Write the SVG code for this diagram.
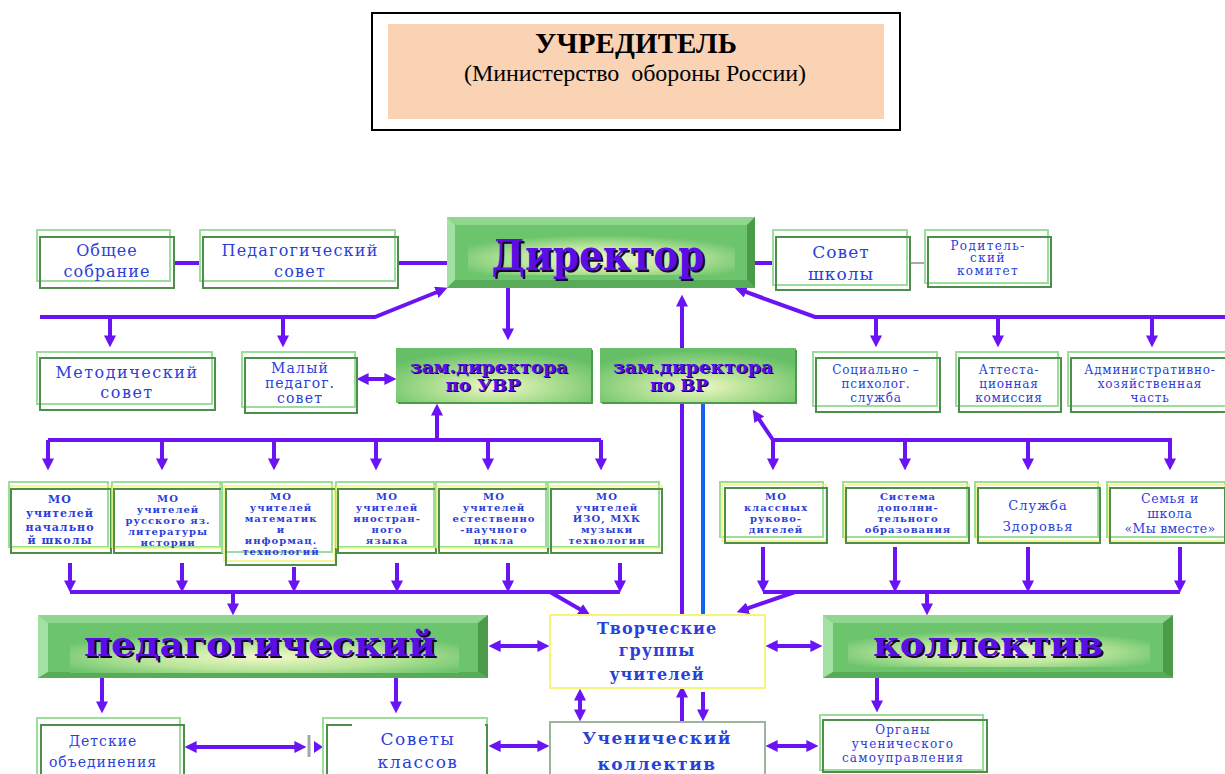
<svg xmlns="http://www.w3.org/2000/svg" width="1225" height="774" viewBox="0 0 1225 774">
<style>
.lt{fill:#fff;stroke:#9ade9a;stroke-width:2}
.dk{fill:none;stroke:#4d8d4d;stroke-width:2}
.yl{fill:none;stroke:#f2f27a;stroke-width:1.5}
.c{fill:none;stroke:#6a14f4;stroke-width:4}
.cm{fill:none;stroke:#6a14f4;stroke-width:4;marker-end:url(#ah)}
.cd{fill:none;stroke:#6a14f4;stroke-width:4;marker-start:url(#ah);marker-end:url(#ah)}
.t{font-family:"DejaVu Serif","Liberation Serif",serif;fill:#2b40d8;text-anchor:middle}
.mo{font-size:10px;letter-spacing:1px;font-weight:bold}
.gt{font-family:"DejaVu Serif","Liberation Serif",serif;font-weight:bold;fill:#5a0ee6;text-anchor:middle}
.gs{font-family:"DejaVu Serif","Liberation Serif",serif;font-weight:bold;fill:#150030;text-anchor:middle}
.hl{fill:#8fd68f}.hd{fill:#4b9b4b}.hb{fill:#58ab58}.hll{fill:#a3e0a3}
</style>
<defs>
<marker id="ah" viewBox="0 0 10 10" refX="3" refY="5" markerWidth="12" markerHeight="12" markerUnits="userSpaceOnUse" orient="auto-start-reverse">
<path d="M0,0 L10,5 L0,10 z" fill="#6a14f4"/>
</marker>
<radialGradient id="gIn" cx="0.5" cy="0.6" r="0.6">
<stop offset="0" stop-color="#f3f9c8"/>
<stop offset="0.55" stop-color="#b8e49a"/>
<stop offset="1" stop-color="#6cc46c"/>
</radialGradient>
<radialGradient id="gZ" cx="0.5" cy="0.7" r="0.65">
<stop offset="0" stop-color="#f1f8c4"/>
<stop offset="0.5" stop-color="#a9dd8e"/>
<stop offset="1" stop-color="#66bf66"/>
</radialGradient>
</defs>
<rect width="1225" height="774" fill="#fff"/>

<g id="uchreditel">
<rect x="372" y="13" width="528" height="117" fill="#fff" stroke="#000" stroke-width="2"/>
<rect x="388" y="24" width="496" height="95" fill="#f9d3b4"/>
<text x="636" y="53" font-family="Liberation Serif,serif" font-weight="bold" font-size="29" text-anchor="middle" textLength="202" fill="#000">УЧРЕДИТЕЛЬ</text>
<text x="635" y="81" font-family="Liberation Serif,serif" font-size="24" text-anchor="middle" textLength="342" fill="#000" style="white-space:pre">(Министерство  обороны России)</text>
</g>

<g id="connectors">
<path class="c" d="M174,263H203"/>
<path class="c" d="M398,263H447"/>
<path class="cm" d="M40,317H375L439.6,291"/>
<path class="cm" d="M110,317V339"/>
<path class="cm" d="M283,317V339"/>
<path class="cd" d="M365,379H388"/>
<path class="cm" d="M508,288V332"/>
<path class="cm" d="M682,348V303"/>
<path class="c" d="M755,263H773"/>
<path class="cm" d="M1225,317H815L742.5,290.7"/>
<path class="cm" d="M876,317V339"/>
<path class="cm" d="M998,317V339"/>
<path class="cm" d="M1152,317V339"/>
<path d="M910,263H928" stroke="#555" stroke-width="1" fill="none"/>
<path class="cm" d="M437,440V412"/>
<path class="c" d="M48,440H601"/>
<path class="cm" d="M48,440V462"/>
<path class="cm" d="M162,440V462"/>
<path class="cm" d="M274,440V462"/>
<path class="cm" d="M376,440V462"/>
<path class="cm" d="M488,440V462"/>
<path class="cm" d="M601,440V462"/>
<path class="cm" d="M773,440L757.4,416.7"/>
<path class="c" d="M773,440H1172"/>
<path class="cm" d="M773,440V462"/>
<path class="cm" d="M905,440V462"/>
<path class="cm" d="M1028,440V462"/>
<path class="cm" d="M1170,440V462"/>
<path class="cm" d="M70,563V584"/>
<path class="cm" d="M182,563V584"/>
<path class="cm" d="M294,567V584"/>
<path class="cm" d="M397,563V584"/>
<path class="cm" d="M508,563V584"/>
<path class="cm" d="M620,563V584"/>
<path class="c" d="M70,592H620"/>
<path class="cm" d="M233,592V607"/>
<path class="cm" d="M550,592L583,611"/>
<path class="cm" d="M763,547V584"/>
<path class="cm" d="M895,547V584"/>
<path class="cm" d="M1028,547V584"/>
<path class="cm" d="M1180,547V584"/>
<path class="c" d="M763,592H1180"/>
<path class="cm" d="M927,592V607"/>
<path class="cm" d="M795,592L744.6,609.4"/>
<path class="c" d="M682,403V615"/>
<path d="M703,403V615" stroke="#1463f0" stroke-width="4" fill="none"/>
<path class="cd" d="M497,646H541"/>
<path class="cd" d="M774,646H814"/>
<path class="cd" d="M580,697V713"/>
<path class="cm" d="M682,722V694"/>
<path class="cm" d="M703,692V713"/>
<path class="cd" d="M497,746H541"/>
<path class="cd" d="M774,746H810"/>
<path class="cm" d="M102,678V705"/>
<path class="cm" d="M396,678V705"/>
<path class="cm" d="M877,678V704"/>
<path class="cd" d="M193,747H298"/>
<path d="M309,735V757" stroke="#a0aaa0" stroke-width="3"/>
<path d="M314,741L323,747L314,753z" fill="#6a14f4"/>
</g>

<g id="direktor">
<rect x="447" y="217" width="308" height="71" fill="#6cc46c"/>
<polygon class="hl" points="447,217 755,217 747,225 455,225"/>
<polygon class="hll" points="447,217 455,225 455,280 447,288"/>
<polygon class="hd" points="755,217 755,288 747,280 747,225"/>
<polygon class="hb" points="447,288 755,288 747,280 455,280"/>
<rect x="468" y="235" width="267" height="40" fill="url(#gIn)"/>
<text class="gs" x="600" y="272" font-size="42" textLength="213" lengthAdjust="spacingAndGlyphs">Директор</text>
<text class="gt" x="598" y="270" font-size="42" textLength="213" lengthAdjust="spacingAndGlyphs">Директор</text>
</g>

<g id="obshee">
<rect class="lt" x="37" y="230" width="133" height="51"/>
<rect class="dk" x="40" y="237" width="134" height="51"/>
<text class="t" font-size="16" letter-spacing="1" x="107" y="256">Общее</text>
<text class="t" font-size="16" letter-spacing="1" x="107" y="277">собрание</text>
</g>

<g id="pedsovet">
<rect class="lt" x="200" y="230" width="195" height="51"/>
<rect class="dk" x="203" y="237" width="195" height="51"/>
<text class="t" font-size="16" letter-spacing="1.2" x="300" y="256">Педагогический</text>
<text class="t" font-size="16" letter-spacing="1.2" x="300" y="277">совет</text>
</g>

<g id="sovet-shkoly">
<rect class="lt" x="773" y="230" width="134" height="55"/>
<rect class="dk" x="776" y="237" width="134" height="53"/>
<text class="t" font-size="17" letter-spacing="1" x="841" y="258">Совет</text>
<text class="t" font-size="17" letter-spacing="1" x="841" y="280">школы</text>
</g>

<g id="roditelsky">
<rect class="lt" x="925" y="230" width="123" height="53"/>
<rect class="dk" x="928" y="237" width="123" height="50"/>
<text class="t" font-size="12" letter-spacing="1.4" x="988" y="250">Родитель-</text>
<text class="t" font-size="12" letter-spacing="1.4" x="988" y="262">ский</text>
<text class="t" font-size="12" letter-spacing="1.4" x="988" y="275">комитет</text>
</g>

<g id="metodsovet">
<rect class="lt" x="37" y="352" width="175" height="52"/>
<rect class="dk" x="40" y="358" width="175" height="52"/>
<text class="t" font-size="16" letter-spacing="1.5" x="127" y="378">Методический</text>
<text class="t" font-size="16" letter-spacing="1.5" x="127" y="398">совет</text>
</g>

<g id="maly-pedsovet">
<rect class="lt" x="242" y="352" width="113" height="55"/>
<rect class="dk" x="245" y="358" width="112" height="55"/>
<text class="t" font-size="14" letter-spacing="1.2" x="300" y="373">Малый</text>
<text class="t" font-size="14" letter-spacing="1" x="300" y="388">педагог.</text>
<text class="t" font-size="14" letter-spacing="1.2" x="300" y="403">совет</text>
</g>

<g id="zam-uvr">
<rect x="396" y="348" width="196" height="55" fill="url(#gZ)"/>
<path d="M398,403H592V350" stroke="#4b9b4b" stroke-width="2" fill="none"/>
<text class="gs" x="490" y="374" font-size="16" textLength="158" lengthAdjust="spacingAndGlyphs">зам.директора</text>
<text class="gt" x="489" y="373" font-size="16" textLength="158" lengthAdjust="spacingAndGlyphs">зам.директора</text>
<text class="gs" x="484" y="392" font-size="16" textLength="75" lengthAdjust="spacingAndGlyphs">по УВР</text>
<text class="gt" x="483" y="391" font-size="16" textLength="75" lengthAdjust="spacingAndGlyphs">по УВР</text>
</g>

<g id="zam-vr">
<rect x="600" y="348" width="196" height="55" fill="url(#gZ)"/>
<path d="M602,403H796V350" stroke="#4b9b4b" stroke-width="2" fill="none"/>
<text class="gs" x="694" y="374" font-size="16" textLength="160" lengthAdjust="spacingAndGlyphs">зам.директора</text>
<text class="gt" x="693" y="373" font-size="16" textLength="160" lengthAdjust="spacingAndGlyphs">зам.директора</text>
<text class="gs" x="680" y="392" font-size="16" textLength="58" lengthAdjust="spacingAndGlyphs">по ВР</text>
<text class="gt" x="679" y="391" font-size="16" textLength="58" lengthAdjust="spacingAndGlyphs">по ВР</text>
</g>

<g id="soc-psy">
<rect class="lt" x="813" y="352" width="124" height="54"/>
<rect class="dk" x="816" y="358" width="124" height="54"/>
<text class="t" font-size="12" letter-spacing="0.8" x="876" y="374">Социально –</text>
<text class="t" font-size="12" letter-spacing="0.8" x="876" y="388">психолог.</text>
<text class="t" font-size="12" letter-spacing="0.8" x="876" y="402">служба</text>
</g>

<g id="attest">
<rect class="lt" x="956" y="352" width="102" height="54"/>
<rect class="dk" x="959" y="358" width="102" height="54"/>
<text class="t" font-size="12" letter-spacing="0.8" x="1009" y="374">Аттеста-</text>
<text class="t" font-size="12" letter-spacing="0.8" x="1009" y="388">ционная</text>
<text class="t" font-size="12" letter-spacing="0.8" x="1009" y="402">комиссия</text>
</g>

<g id="admin">
<rect class="lt" x="1068" y="352" width="160" height="54"/>
<rect class="dk" x="1071" y="358" width="160" height="54"/>
<text class="t" font-size="12" letter-spacing="0.8" x="1150" y="374">Административно-</text>
<text class="t" font-size="12" letter-spacing="0.8" x="1150" y="388">хозяйственная</text>
<text class="t" font-size="12" letter-spacing="0.8" x="1150" y="402">часть</text>
</g>

<g id="mo-nach">
<rect class="lt" x="9" y="482" width="99" height="65"/>
<rect class="yl" x="11" y="486" width="100" height="62"/>
<rect class="dk" x="11" y="489" width="100" height="64"/>
<text class="t" font-size="11" font-weight="bold" letter-spacing="1" x="60" y="503">МО</text>
<text class="t" font-size="11" font-weight="bold" letter-spacing="1" x="60" y="517">учителей</text>
<text class="t" font-size="11" font-weight="bold" letter-spacing="1" x="60" y="531">начально</text>
<text class="t" font-size="11" font-weight="bold" letter-spacing="1" x="60" y="544">й школы</text>
</g>

<g id="mo-rus">
<rect class="lt" x="112" y="482" width="108" height="65"/>
<rect class="yl" x="113" y="486" width="110" height="62"/>
<rect class="dk" x="114" y="489" width="108" height="64"/>
<text class="t mo" x="168" y="502">МО</text>
<text class="t mo" x="168" y="513">учителей</text>
<text class="t mo" x="168" y="524">русского яз.</text>
<text class="t mo" x="168" y="535">литературы</text>
<text class="t mo" x="168" y="546">истории</text>
</g>

<g id="mo-mat">
<rect class="lt" x="222" y="482" width="110" height="70"/>
<rect class="yl" x="224" y="486" width="111" height="75"/>
<rect class="dk" x="226" y="489" width="110" height="76"/>
<text class="t mo" x="281" y="500">МО</text>
<text class="t mo" x="281" y="511">учителей</text>
<text class="t mo" x="281" y="522">математик</text>
<text class="t mo" x="281" y="533">и</text>
<text class="t mo" x="281" y="544">информац.</text>
<text class="t mo" x="281" y="555">технологий</text>
</g>

<g id="mo-in">
<rect class="lt" x="336" y="482" width="98" height="65"/>
<rect class="yl" x="337" y="486" width="100" height="62"/>
<rect class="dk" x="338" y="489" width="98" height="64"/>
<text class="t mo" x="387" y="500">МО</text>
<text class="t mo" x="387" y="511">учителей</text>
<text class="t mo" x="387" y="522">иностран-</text>
<text class="t mo" x="387" y="533">ного</text>
<text class="t mo" x="387" y="544">языка</text>
</g>

<g id="mo-est">
<rect class="lt" x="436" y="482" width="110" height="65"/>
<rect class="yl" x="437" y="486" width="111" height="62"/>
<rect class="dk" x="439" y="489" width="109" height="64"/>
<text class="t mo" x="494" y="500">МО</text>
<text class="t mo" x="494" y="511">учителей</text>
<text class="t mo" x="494" y="522">естественно</text>
<text class="t mo" x="494" y="533">-научного</text>
<text class="t mo" x="494" y="544">цикла</text>
</g>

<g id="mo-izo">
<rect class="lt" x="548" y="482" width="111" height="65"/>
<rect class="yl" x="550" y="486" width="112" height="62"/>
<rect class="dk" x="551" y="489" width="111" height="64"/>
<text class="t mo" x="607" y="500">МО</text>
<text class="t mo" x="607" y="511">учителей</text>
<text class="t mo" x="607" y="522">ИЗО, МХК</text>
<text class="t mo" x="607" y="533">музыки</text>
<text class="t mo" x="607" y="544">технологии</text>
</g>

<g id="mo-klass">
<rect class="lt" x="720" y="482" width="103" height="55"/>
<rect class="yl" x="722" y="485" width="104" height="56"/>
<rect class="dk" x="725" y="488" width="102" height="55"/>
<text class="t mo" x="776" y="500">МО</text>
<text class="t mo" x="776" y="511">классных</text>
<text class="t mo" x="776" y="522">руково-</text>
<text class="t mo" x="776" y="533">дителей</text>
</g>

<g id="sistema-dop">
<rect class="lt" x="843" y="482" width="124" height="55"/>
<rect class="yl" x="845" y="485" width="124" height="56"/>
<rect class="dk" x="846" y="488" width="123" height="55"/>
<text class="t mo" x="908" y="500">Система</text>
<text class="t mo" x="908" y="511">дополни-</text>
<text class="t mo" x="908" y="522">тельного</text>
<text class="t mo" x="908" y="533">образования</text>
</g>

<g id="sluzhba-zdorovya">
<rect class="lt" x="975" y="482" width="123" height="55"/>
<rect class="yl" x="977" y="485" width="123" height="56"/>
<rect class="dk" x="978" y="488" width="122" height="55"/>
<text class="t" font-size="13" letter-spacing="1" x="1038" y="510">Служба</text>
<text class="t" font-size="13" letter-spacing="1" x="1038" y="531">Здоровья</text>
</g>

<g id="semya-shkola">
<rect class="lt" x="1107" y="482" width="118" height="55"/>
<rect class="yl" x="1109" y="485" width="116" height="56"/>
<rect class="dk" x="1110" y="488" width="115" height="55"/>
<text class="t" font-size="12.5" letter-spacing="0.6" x="1170" y="503">Семья и</text>
<text class="t" font-size="12.5" letter-spacing="0.6" x="1170" y="518">школа</text>
<text class="t" font-size="12.5" letter-spacing="0.3" x="1170" y="533">«Мы вместе»</text>
</g>

<g id="pedagogichesky">
<rect x="38" y="615" width="450" height="63" fill="#6cc46c"/>
<polygon class="hl" points="38,615 488,615 478,623 48,623"/>
<polygon class="hll" points="38,615 48,623 48,672 38,678"/>
<polygon class="hd" points="488,615 488,678 478,672 478,623"/>
<polygon class="hb" points="38,678 488,678 478,672 48,672"/>
<rect x="70" y="633" width="389" height="40" fill="url(#gIn)"/>
<text class="gs" x="262" y="658" font-size="34" textLength="352" lengthAdjust="spacingAndGlyphs">педагогический</text>
<text class="gt" x="260" y="656" font-size="34" textLength="352" lengthAdjust="spacingAndGlyphs">педагогический</text>
</g>

<g id="tvorcheskie">
<rect x="550" y="615" width="215" height="73" fill="#fff" stroke="#f5f57a" stroke-width="2"/>
<text class="t" font-size="16" font-weight="bold" letter-spacing="1" x="657" y="634">Творческие</text>
<text class="t" font-size="16" font-weight="bold" letter-spacing="1" x="657" y="656">группы</text>
<text class="t" font-size="16" font-weight="bold" letter-spacing="1" x="657" y="680">учителей</text>
</g>

<g id="kollektiv">
<rect x="823" y="615" width="350" height="63" fill="#6cc46c"/>
<polygon class="hl" points="823,615 1173,615 1163,623 833,623"/>
<polygon class="hll" points="823,615 833,623 833,672 823,678"/>
<polygon class="hd" points="1173,615 1173,678 1163,672 1163,623"/>
<polygon class="hb" points="823,678 1173,678 1163,672 833,672"/>
<rect x="848" y="631" width="302" height="36" fill="url(#gIn)"/>
<text class="gs" x="990" y="658" font-size="34" textLength="230" lengthAdjust="spacingAndGlyphs">коллектив</text>
<text class="gt" x="988" y="656" font-size="34" textLength="230" lengthAdjust="spacingAndGlyphs">коллектив</text>
</g>

<g id="detskie">
<rect class="lt" x="37" y="718" width="143" height="60"/>
<rect class="dk" x="41" y="725" width="143" height="55"/>
<text class="t" font-size="14" letter-spacing="1" x="103" y="746">Детские</text>
<text class="t" font-size="14" letter-spacing="1" x="103" y="767">объединения</text>
</g>

<g id="sovety-klassov">
<rect class="lt" x="323" y="718" width="164" height="60"/>
<rect class="dk" x="327" y="725" width="160" height="55"/>
<rect x="352" y="721" width="133" height="53" fill="#fff"/>
<text class="t" font-size="17" letter-spacing="1.5" x="418" y="745">Советы</text>
<text class="t" font-size="17" letter-spacing="1.5" x="418" y="768">классов</text>
</g>

<g id="uchenichesky">
<rect x="550" y="722" width="215" height="60" fill="#fff" stroke="#9db59d" stroke-width="2"/>
<text class="t" font-size="17" font-weight="bold" letter-spacing="1.5" x="657" y="744">Ученический</text>
<text class="t" font-size="17" font-weight="bold" letter-spacing="1.5" x="657" y="770">коллектив</text>
</g>

<g id="organy">
<rect class="lt" x="820" y="715" width="163" height="55"/>
<rect class="dk" x="823" y="720" width="164" height="52"/>
<text class="t" font-size="12" letter-spacing="1.2" x="903" y="734">Органы</text>
<text class="t" font-size="12" letter-spacing="1.2" x="903" y="748">ученического</text>
<text class="t" font-size="12" letter-spacing="1.2" x="903" y="762">самоуправления</text>
</g>
</svg>
